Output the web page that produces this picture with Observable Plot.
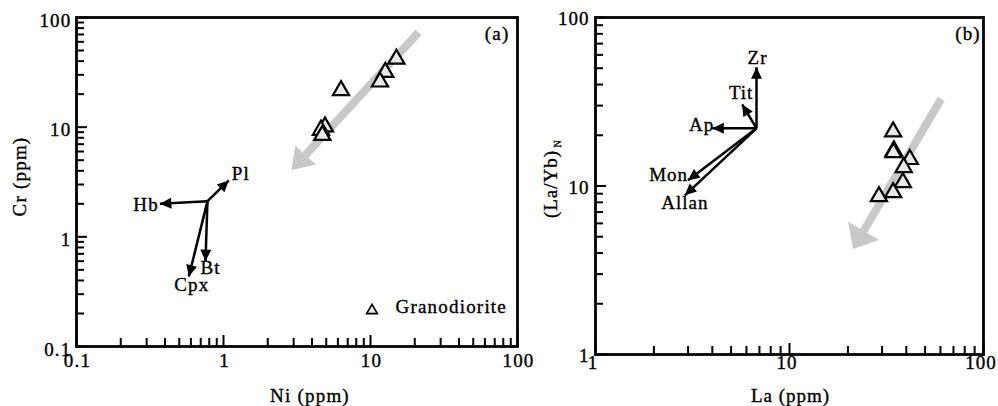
<!DOCTYPE html>
<html>
<head>
<meta charset="utf-8">
<script src="https://cdn.jsdelivr.net/npm/d3@7"></script>
<script src="https://cdn.jsdelivr.net/npm/@observablehq/plot@0.6"></script>
<style>
  html, body { margin: 0; padding: 0; background: #fff; overflow: hidden; }
  #wrap { position: relative; width: 998px; height: 406px; overflow: hidden; }
  #a { position: absolute; left: 0; top: 0; }
  #b { position: absolute; left: 545px; top: 0; }
  #wrap svg, #wrap svg text { font-family: "Liberation Serif", "DejaVu Serif", serif !important; }
  #wrap svg text { fill: #000; stroke: #000; stroke-width: 0.35px; }
</style>
</head>
<body>
<div id="wrap"><div id="a"></div><div id="b"></div></div>
<script>
// ---------- Data: panel (a) Cr vs Ni ----------
const niGranodiorite = [15, 12.6, 11.6, 6.3, 4.9, 4.6, 4.7];
const crGranodiorite = [41.8, 31.7, 25.9, 21.6, 10.1, 9.4, 8.45];

const vectorOriginNi = 0.778;
const vectorOriginCr = 2.115;
const mineralsA = ["Pl", "Hb", "Bt", "Cpx"];
const mineralTipNi = [1.087, 0.369, 0.754, 0.581];
const mineralTipCr = [3.27, 2.0, 0.60, 0.435];

const trendANi = [21.2, 3.61];
const trendACr = [72.9, 5.58];

// ---------- Data: panel (b) (La/Yb)N vs La ----------
const laGranodiorite = [34.2, 34.5, 34.3, 41.7, 38.8, 38.4, 34.2, 28.9];
const laYbGranodiorite = [21.0, 16.2, 15.8, 14.4, 12.9, 10.5, 9.15, 8.67];

const vectorOriginLa = 6.76;
const vectorOriginLaYb = 22.0;
const mineralsB = ["Zr", "Tit", "Ap", "Mon", "Allan"];
const mineralTipLa = [6.76, 5.70, 4.0, 3.0, 2.89];
const mineralTipLaYb = [50.7, 30.5, 22.0, 10.8, 8.8];

const trendBLa = [60.5, 24.1];
const trendBLaYb = [32.9, 5.41];

// ---------- Ticks ----------
const ticksA = [0.1, 1, 10, 100];
const ticksB = [1, 10, 100];
const tickLabelsA = ["0.1", "1", "10", "100"];
const tickLabelsB = ["1", "10", "100"];
const minorMultipliers = [2, 3, 4, 5, 6, 7, 8, 9];

// ---------- Styling (not data) ----------
const FONT = "Liberation Serif";
const labelOffsetsA = {
  Pl: {dx: 3, dy: -6, textAnchor: "start"},
  Hb: {dx: -1, dy: 1, textAnchor: "end"},
  Bt: {dx: -5, dy: 7, textAnchor: "start"},
  Cpx: {dx: 3, dy: 8, textAnchor: "middle"}
};
const labelOffsetsB = {
  Zr: {dx: 1, dy: -9, textAnchor: "middle"},
  Tit: {dx: -1, dy: -11, textAnchor: "middle"},
  Ap: {dx: 2, dy: -3, textAnchor: "end"},
  Mon: {dx: 0, dy: -5, textAnchor: "end"},
  Allan: {dx: 0, dy: 8, textAnchor: "middle"}
};
const mid = {textAnchor: "middle", lineAnchor: "middle"};

function minorTicks(majors) {
  const out = [];
  for (let i = 0; i < majors.length - 1; i++) for (const m of minorMultipliers) out.push(majors[i] * m);
  return out;
}

// custom filled arrowhead marker; tipAtEnd: tip at line end, else base at line end
function headMarker(L, W, tipAtEnd) {
  return (color, context) => {
    const doc = (context && context.document) || document;
    const ns = "http://www.w3.org/2000/svg";
    const m = doc.createElementNS(ns, "marker");
    const p = doc.createElementNS(ns, "path");
    if (tipAtEnd) {
      m.setAttribute("viewBox", `${-L} ${-W / 2} ${L} ${W}`);
      p.setAttribute("d", `M0,0L${-L},${-W / 2}L${-L},${W / 2}Z`);
    } else {
      m.setAttribute("viewBox", `0 ${-W / 2} ${L} ${W}`);
      p.setAttribute("d", `M${L},0L0,${-W / 2}L0,${W / 2}Z`);
    }
    m.setAttribute("markerWidth", L);
    m.setAttribute("markerHeight", W);
    m.setAttribute("refX", 0);
    m.setAttribute("refY", 0);
    m.setAttribute("orient", "auto");
    m.setAttribute("overflow", "visible");
    p.setAttribute("fill", color);
    p.setAttribute("stroke", "none");
    m.appendChild(p);
    return m;
  };
}

const blackHead = headMarker(4.6, 4.4, true);
const grayHeadA = headMarker(2.6, 3.5, false);
const grayHeadB = headMarker(2.6, 4.5, false);

function axisMarks(ticks, labels, frameW, frameH, opts) {
  const minor = minorTicks(ticks);
  const fmt = (d) => labels[ticks.indexOf(d)];
  return [
    Plot.ruleX(minor, {insetTop: frameH - 8, strokeWidth: 2}),
    Plot.ruleX(ticks, {insetTop: frameH - 11, strokeWidth: 2}),
    Plot.ruleY(minor, {insetRight: frameW - 8, strokeWidth: 2}),
    Plot.ruleY(ticks, {insetRight: frameW - 11, strokeWidth: 2}),
    Plot.axisX(ticks, {tickSize: 0, tickPadding: opts.xPad, tickFormat: fmt, label: null, dx: opts.xDx, fontSize: 19, fontFamily: FONT}),
    Plot.axisY(ticks, {tickSize: 0, tickPadding: opts.yPad, tickFormat: fmt, label: null, dy: opts.yDy, fontSize: 19, fontFamily: FONT}),
    Plot.frame({strokeWidth: 2.8, stroke: "#000"})
  ];
}

// ---------- Panel (a) ----------
const A = {width: 545, height: 406, ml: 76, mr: 28, mt: 17, mb: 60};
const aFW = A.width - A.ml - A.mr, aFH = A.height - A.mt - A.mb;
const pointsA = niGranodiorite.map((x, i) => ({x, y: crGranodiorite[i]}));
const vecA = mineralsA.map((name, i) => ({name, x1: vectorOriginNi, y1: vectorOriginCr, x2: mineralTipNi[i], y2: mineralTipCr[i]}));
const trendA = [{x1: trendANi[0], y1: trendACr[0], x2: trendANi[1], y2: trendACr[1]}];

const plotA = Plot.plot({
  width: A.width, height: A.height,
  marginLeft: A.ml, marginRight: A.mr, marginTop: A.mt, marginBottom: A.mb,
  x: {type: "log", domain: [0.1, 100]},
  y: {type: "log", domain: [0.1, 100]},
  style: {fontFamily: FONT, fontSize: "19px", letterSpacing: "1.2px", background: "transparent", color: "#000", overflow: "visible"},
  marks: [
    ...axisMarks(ticksA, tickLabelsA, aFW, aFH, {xPad: 7, yPad: 5, yDy: 3, xDx: 1}),
    Plot.link(trendA, {x1: "x1", y1: "y1", x2: "x2", y2: "y2", stroke: "#c8c8c8", strokeWidth: 8, markerEnd: grayHeadA}),
    Plot.link(vecA, {x1: "x1", y1: "y1", x2: "x2", y2: "y2", stroke: "#000", strokeWidth: 2.5, markerEnd: blackHead}),
    ...vecA.map((d) => Plot.text([d], {x: "x2", y: "y2", text: "name", fontSize: 19, fontFamily: FONT, letterSpacing: "1.5px", ...labelOffsetsA[d.name]})),
    Plot.dot(pointsA, {x: "x", y: "y", symbol: "triangle", r: 6, fill: "#e8e8e8", stroke: "#000", strokeWidth: 2.2}),
    Plot.text(["(a)"], {frameAnchor: "top-right", dx: -8, dy: 16, textAnchor: "end", lineAnchor: "middle", fontSize: 19, fontFamily: FONT}),
    Plot.dot([0], {frameAnchor: "bottom-right", x: null, y: null, dx: -145.5, dy: -36, symbol: "triangle", r: 4, fill: "#e8e8e8", stroke: "#000", strokeWidth: 1.6}),
    Plot.text(["Granodiorite"], {frameAnchor: "bottom-right", dx: -122, dy: -40, textAnchor: "start", lineAnchor: "middle", fontSize: 19, fontFamily: FONT, letterSpacing: "1.8px"}),
    Plot.text(["Ni (ppm)"], {frameAnchor: "bottom", dx: 13, dy: 49, ...mid, fontSize: 19, fontFamily: FONT, letterSpacing: "2px"}),
    Plot.text(["Cr (ppm)"], {frameAnchor: "left", rotate: -90, dx: -57, dy: -5.5, ...mid, fontSize: 19, fontFamily: FONT, letterSpacing: "2px"})
  ]
});
document.getElementById("a").appendChild(plotA);

// ---------- Panel (b) ----------
const B = {width: 453, height: 406, ml: 50, mr: 15, mt: 17, mb: 52};
const bFW = B.width - B.ml - B.mr, bFH = B.height - B.mt - B.mb;
const pointsB = laGranodiorite.map((x, i) => ({x, y: laYbGranodiorite[i]}));
const vecB = mineralsB.map((name, i) => ({name, x1: vectorOriginLa, y1: vectorOriginLaYb, x2: mineralTipLa[i], y2: mineralTipLaYb[i]}));
const trendB = [{x1: trendBLa[0], y1: trendBLaYb[0], x2: trendBLa[1], y2: trendBLaYb[1]}];

const plotB = Plot.plot({
  width: B.width, height: B.height,
  marginLeft: B.ml, marginRight: B.mr, marginTop: B.mt, marginBottom: B.mb,
  x: {type: "log", domain: [1, 100]},
  y: {type: "log", domain: [1, 100]},
  style: {fontFamily: FONT, fontSize: "19px", letterSpacing: "1px", background: "transparent", color: "#000", overflow: "visible"},
  marks: [
    ...axisMarks(ticksB, tickLabelsB, bFW, bFH, {xPad: 1, yPad: 6, yDy: 1.5, xDx: -2.5}),
    Plot.link(trendB, {x1: "x1", y1: "y1", x2: "x2", y2: "y2", stroke: "#c8c8c8", strokeWidth: 8, markerEnd: grayHeadB}),
    Plot.dot(pointsB, {x: "x", y: "y", symbol: "triangle", r: 6, fill: "#e8e8e8", stroke: "#000", strokeWidth: 2.2}),
    Plot.link(vecB, {x1: "x1", y1: "y1", x2: "x2", y2: "y2", stroke: "#000", strokeWidth: 2.5, markerEnd: blackHead}),
    ...vecB.map((d) => Plot.text([d], {x: "x2", y: "y2", text: "name", fontSize: 19, fontFamily: FONT, letterSpacing: "1.5px", ...labelOffsetsB[d.name]})),
    Plot.text(["(b)"], {frameAnchor: "top-right", dx: -3, dy: 16, textAnchor: "end", lineAnchor: "middle", fontSize: 19, fontFamily: FONT}),
    Plot.text(["La (ppm)"], {frameAnchor: "bottom", dx: 1, dy: 41, ...mid, fontSize: 19, fontFamily: FONT, letterSpacing: "2px"}),
    Plot.text(["(La/Yb)"], {frameAnchor: "left", rotate: -90, dx: -45, dy: -2, ...mid, fontSize: 19, fontFamily: FONT, letterSpacing: "2px"}),
    Plot.text(["N"], {frameAnchor: "left", rotate: -90, dx: -38, dy: -42.5, ...mid, fontSize: 10, fontFamily: FONT, letterSpacing: "0px"})
  ]
});
document.getElementById("b").appendChild(plotB);
</script>
</body>
</html>
